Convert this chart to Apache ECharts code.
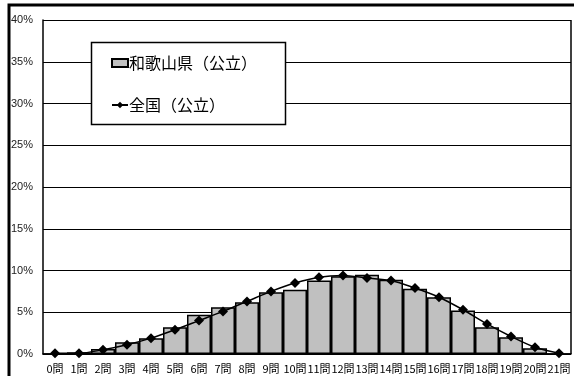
<!DOCTYPE html>
<html>
<head>
<meta charset="utf-8">
<script src="https://cdn.jsdelivr.net/npm/echarts@6/dist/echarts.min.js"></script>
<style>
  html, body { margin: 0; padding: 0; background: #fff; }
  #chart { width: 574px; height: 376px; }
</style>
</head>
<body>
<div id="chart"></div>
<script>
// 正答数ごとの生徒の割合（%）
const categories = ['0問','1問','2問','3問','4問','5問','6問','7問','8問','9問','10問',
  '11問','12問','13問','14問','15問','16問','17問','18問','19問','20問','21問'];
const wakayama = [0.0, 0.2, 0.6, 1.4, 1.9, 3.2, 4.7, 5.6, 6.2, 7.4, 7.7,
  8.8, 9.3, 9.5, 8.9, 7.8, 6.8, 5.2, 3.2, 2.0, 0.7, 0.0];
const zenkoku = [0.1, 0.1, 0.5, 1.1, 1.9, 2.9, 4.0, 5.1, 6.3, 7.5, 8.5,
  9.2, 9.4, 9.1, 8.8, 7.9, 6.8, 5.3, 3.6, 2.1, 0.8, 0.1];
const yTicks = { min: 0, max: 40, step: 5 };
const seriesNames = ['和歌山県（公立）', '全国（公立）'];

const chart = echarts.init(document.getElementById('chart'), null, { renderer: 'canvas' });

chart.setOption({
  animation: false,
  backgroundColor: '#fff',
  textStyle: { fontFamily: '"Noto Sans CJK JP", sans-serif' },
  grid: { left: 43, right: 3, top: 20, bottom: 22, show: false },
  graphic: [
    // outer chart frame (top and left edges)
    {
      type: 'polyline', z: 10,
      shape: { points: [[9, 376], [9, 5], [574, 5]] },
      style: { stroke: '#000', lineWidth: 3, fill: null }
    },
    // right edge of the plot area
    {
      type: 'line', z: 3,
      shape: { x1: 571, y1: 20, x2: 571, y2: 354 },
      style: { stroke: '#000', lineWidth: 1.5 }
    },
    // legend box
    {
      type: 'rect', z: 5,
      shape: { x: 91.5, y: 42.5, width: 194, height: 82 },
      style: { fill: '#fff', stroke: '#000', lineWidth: 1.5 }
    }
  ],
  legend: {
    z: 6,
    orient: 'vertical',
    left: 111,
    top: 55,
    itemGap: 26,
    itemWidth: 16,
    itemHeight: 8,
    padding: 0,
    textStyle: { fontSize: 16, color: '#000', padding: [0, 0, 0, -4] },
    data: [
      { name: seriesNames[0], icon: 'rect' },
      { name: seriesNames[1] }
    ]
  },
  xAxis: {
    type: 'category',
    data: categories,
    axisTick: { show: false },
    axisLine: { lineStyle: { color: '#000', width: 1.5 } },
    axisLabel: {
      interval: 0, fontSize: 11, color: '#000', margin: 9,
      fontFamily: '"Noto Sans CJK JP", sans-serif'
    }
  },
  yAxis: {
    type: 'value',
    min: yTicks.min, max: yTicks.max, interval: yTicks.step,
    axisLine: { show: true, lineStyle: { color: '#000', width: 1.5 } },
    axisTick: { show: false },
    splitLine: { lineStyle: { color: '#000', width: 1 } },
    axisLabel: {
      formatter: v => v + '%', fontSize: 11, color: '#222', margin: 10,
      fontFamily: '"Liberation Sans Narrow", "Liberation Sans", sans-serif'
    }
  },
  series: [
    {
      name: seriesNames[0],
      type: 'bar',
      data: wakayama,
      barCategoryGap: '0%',
      itemStyle: { color: '#c0c0c0', borderColor: '#000', borderWidth: 1.5 },
      z: 2
    },
    {
      name: seriesNames[1],
      type: 'line',
      data: zenkoku,
      smooth: 0.3,
      symbol: 'diamond',
      symbolSize: 10,
      lineStyle: { color: '#000', width: 1.5 },
      itemStyle: { color: '#000' },
      z: 3
    }
  ]
});
</script>
</body>
</html>
